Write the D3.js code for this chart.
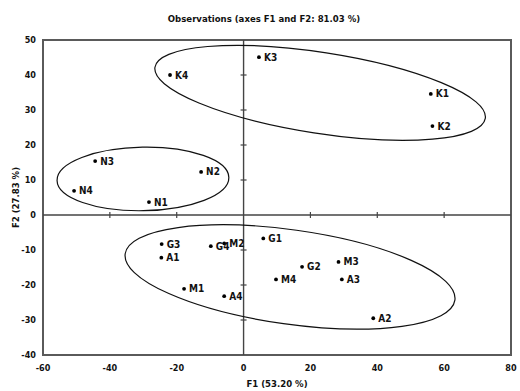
<!DOCTYPE html>
<html>
<head>
<meta charset="utf-8">
<script src="https://cdn.jsdelivr.net/npm/d3@7"></script>
<style>
  body { margin: 0; background: #fff; }
  text { font-family: "Liberation Sans Narrow", "DejaVu Sans Condensed", sans-serif; font-weight: bold; fill: #111; }
</style>
</head>
<body>
<div id="chart"></div>
<script>
// observation labels and their coordinates on F1 / F2
const labels = ["K1","K2","K3","K4","N1","N2","N3","N4","G1","G2","G3","G4","M1","M2","M3","M4","A1","A2","A3","A4"];
const f1 = [56.0, 56.5, 4.6, -22.0, -28.3, -12.7, -44.4, -50.7, 5.9, 17.5, -24.5, -9.8, -17.8, -5.8, 28.4, 9.7, -24.6, 38.8, 29.4, -5.8];
const f2 = [34.6, 25.4, 45.1, 40.0, 3.7, 12.3, 15.4, 6.9, -6.7, -14.8, -8.3, -8.9, -21.1, -8.1, -13.4, -18.4, -12.2, -29.5, -18.4, -23.2];

// group ellipses: centre (F1,F2), half axes (in F1 units), angle (deg)
const ellCx = [22.9, -30.1, 13.9];
const ellCy = [34.9, 10.3, -17.7];
const ellRx = [50.0, 25.7, 49.8];
const ellRy = [12.1, 9.5, 14.1];
const ellAngle = [8.8, -1, 8];

const xTicks = [-60, -40, -20, 0, 20, 40, 60, 80];
const yTicks = [-40, -30, -20, -10, 0, 10, 20, 30, 40, 50];

const W = 520, H = 391;
const margin = {top: 40, right: 9, bottom: 36, left: 43};

const svg = d3.select("#chart").append("svg")
    .attr("width", W)
    .attr("height", H);

const x = d3.scaleLinear().domain([-60, 80]).range([margin.left, W - margin.right]);
const y = d3.scaleLinear().domain([-40, 50]).range([H - margin.bottom, margin.top]);

// title
svg.append("text")
    .attr("x", 264).attr("y", 22)
    .attr("text-anchor", "middle")
    .style("font-size", "9.5px")
    .text("Observations (axes F1 and F2: 81.03 %)");

// frame
svg.append("rect")
    .attr("x", x(-60)).attr("y", y(50))
    .attr("width", x(80) - x(-60))
    .attr("height", y(-40) - y(50))
    .attr("fill", "none")
    .attr("stroke", "#5a5a5a")
    .attr("stroke-width", 2);

// tick labels on the outside
svg.append("g").selectAll("text").data(xTicks).enter().append("text")
    .attr("x", d => x(d))
    .attr("y", y(-40) + 16)
    .attr("text-anchor", "middle")
    .style("font-size", "9px")
    .text(d => d);

svg.append("g").selectAll("text").data(yTicks).enter().append("text")
    .attr("x", x(-60) - 7)
    .attr("y", d => y(d) + 3)
    .attr("text-anchor", "end")
    .style("font-size", "9px")
    .text(d => d);

// zero axes with crossing ticks
const axCol = "#444";
svg.append("line")
    .attr("x1", x(-60)).attr("x2", x(80))
    .attr("y1", y(0)).attr("y2", y(0))
    .attr("stroke", axCol).attr("stroke-width", 1.4);
svg.append("line")
    .attr("x1", x(0)).attr("x2", x(0))
    .attr("y1", y(-40)).attr("y2", y(50))
    .attr("stroke", axCol).attr("stroke-width", 1.4);

svg.append("g").selectAll("line").data(xTicks.filter(d => d > -60 && d < 80 && d !== 0)).enter().append("line")
    .attr("x1", d => x(d)).attr("x2", d => x(d))
    .attr("y1", y(0) - 3).attr("y2", y(0) + 3)
    .attr("stroke", axCol).attr("stroke-width", 1.2);

svg.append("g").selectAll("line").data(yTicks.filter(d => d > -40 && d < 50 && d !== 0)).enter().append("line")
    .attr("x1", x(0) - 3).attr("x2", x(0) + 3)
    .attr("y1", d => y(d)).attr("y2", d => y(d))
    .attr("stroke", axCol).attr("stroke-width", 1.2);

// axis titles
svg.append("text")
    .attr("x", (x(-60) + x(80)) / 2)
    .attr("y", H - 4)
    .attr("text-anchor", "middle")
    .style("font-size", "9.5px")
    .text("F1 (53.20 %)");

svg.append("text")
    .attr("transform", "translate(19," + ((y(50) + y(-40)) / 2) + ") rotate(-90)")
    .attr("text-anchor", "middle")
    .style("font-size", "9.5px")
    .text("F2 (27.83 %)");

// ellipses
const ellipses = ellCx.map((c, i) => ({cx: c, cy: ellCy[i], rx: ellRx[i], ry: ellRy[i], a: ellAngle[i]}));
const ux = x(1) - x(0);   // px per F1 unit
svg.append("g").selectAll("ellipse").data(ellipses).enter().append("ellipse")
    .attr("cx", 0).attr("cy", 0)
    .attr("rx", d => d.rx * ux)
    .attr("ry", d => d.ry * ux)
    .attr("transform", d => "translate(" + x(d.cx) + "," + y(d.cy) + ") rotate(" + d.a + ")")
    .attr("fill", "none")
    .attr("stroke", "#111")
    .attr("stroke-width", 1.2);

// points
const pts = labels.map((l, i) => ({label: l, f1: f1[i], f2: f2[i]}));
const g = svg.append("g");
g.selectAll("circle").data(pts).enter().append("circle")
    .attr("cx", d => x(d.f1))
    .attr("cy", d => y(d.f2))
    .attr("r", 1.9)
    .attr("fill", "#000");

g.selectAll("text.lbl").data(pts).enter().append("text")
    .attr("class", "lbl")
    .attr("x", d => x(d.f1) + 5)
    .attr("y", d => y(d.f2) + 3.5)
    .style("font-size", "10px")
    .text(d => d.label);
</script>
</body>
</html>
